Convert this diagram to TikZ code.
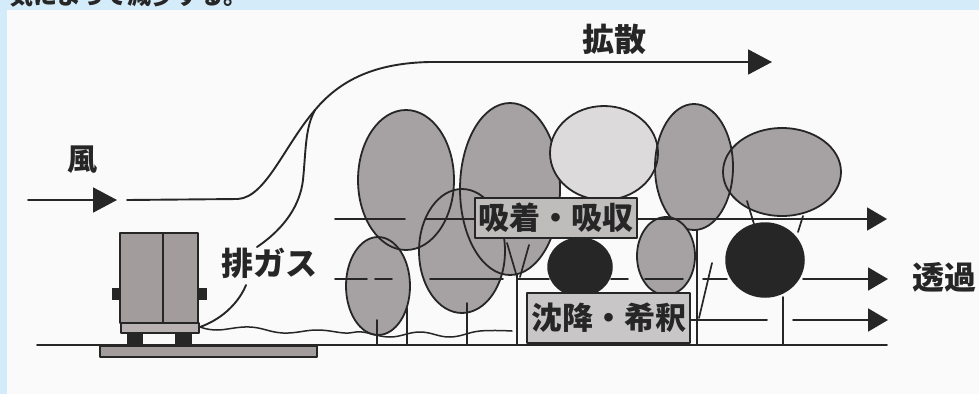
\documentclass[tikz,border=0pt]{standalone}
\usepackage{fontspec}
\newfontfamily\jp{Noto Sans CJK JP}
\usetikzlibrary{arrows.meta}
\definecolor{sky}{HTML}{D4EBF9}
\definecolor{paper}{HTML}{FAFAFA}
\definecolor{leaf}{HTML}{A6A1A3}
\definecolor{pale}{HTML}{DCDADB}
\definecolor{ink}{HTML}{262626}
\definecolor{boxgray}{HTML}{BFBCBC}
\definecolor{boxlight}{HTML}{C8C6C6}
\definecolor{truckgray}{HTML}{A29C9D}
\definecolor{chassis}{HTML}{B8B2B3}

\tikzset{
  bigtip/.tip={Triangle[length=24pt,width=25pt]},
  flowtip/.tip={Triangle[length=20pt,width=23pt]},
  outline/.style={draw=ink, line width=1.8pt},
  flow/.style={draw=ink, line width=1.9pt},
  canopy/.style={fill=leaf},
  lightcanopy/.style={fill=pale},
  darkcanopy/.style={fill=ink, draw=ink, line width=1.5pt},
  trunk/.style={draw=ink, line width=1.7pt},
  label/.style={inner sep=0pt, text=ink, font=\jp\bfseries\fontsize{32}{32}\selectfont},
  tagbox/.style={draw=ink, line width=1.8pt, inner sep=0pt, text=ink,
    font=\jp\bfseries\fontsize{31}{31}\selectfont},
}

\begin{document}
\begin{tikzpicture}[x=1pt, y=-1pt, line join=round, line cap=round]
\useasboundingbox (0,0) rectangle (979,394);
\clip (0,0) rectangle (979,394);

% page background and white panel
\fill[sky] (0,0) rectangle (979,394);
\fill[paper] (7,10) rectangle (979,394);
\node[anchor=base west, inner sep=0pt, text=ink, font=\jp\bfseries\fontsize{24}{24}\selectfont]
  (caption) at (9,4) {気によって減少する。};

% ---- tree canopies, back row (fills first, outlines on top)
\path[canopy] (406,180) ellipse [x radius=48pt, y radius=70pt];
\path[canopy] (510,189) ellipse [x radius=50pt, y radius=86pt];
\path[canopy] (462,251) ellipse [x radius=43pt, y radius=62pt];
\path[canopy] (378,286) ellipse [x radius=32pt, y radius=49pt];
\draw[outline] (406,180) ellipse [x radius=48pt, y radius=70pt];
\draw[outline] (510,189) ellipse [x radius=50pt, y radius=86pt];
\draw[outline] (462,251) ellipse [x radius=43pt, y radius=62pt];
\draw[outline] (378,286) ellipse [x radius=32pt, y radius=49pt];

% ---- right-hand canopies
\path[lightcanopy] (604,153) ellipse [x radius=54pt, y radius=47pt];
\path[canopy] (694,167) ellipse [x radius=39pt, y radius=63pt];
\path[canopy] (782,172) ellipse [x radius=59pt, y radius=44pt];
\draw[outline] (604,153) ellipse [x radius=54pt, y radius=47pt];
\draw[outline] (694,167) ellipse [x radius=39pt, y radius=63pt];
\draw[outline] (782,172) ellipse [x radius=59pt, y radius=44pt];
\path[canopy] (666,256) ellipse [x radius=29pt, y radius=39pt];
\draw[outline] (666,256) ellipse [x radius=29pt, y radius=39pt];

% dark crowns
\draw[darkcanopy] (580,267) ellipse [x radius=32pt, y radius=29pt];
\draw[darkcanopy] (765,260) ellipse [x radius=39pt, y radius=37pt];

% ---- trunks and branches
\draw[trunk] (377,320) -- (377,345);
\draw[trunk] (407,308) -- (407,345);
\draw[trunk] (467,303) -- (467,345);
\draw[trunk] (517,275) -- (517,345);
\draw[trunk] (507,243) -- (517,277);
\draw[trunk] (529,245) -- (520,277);
\draw[trunk] (697,230) -- (697,345);
\draw[trunk] (712,263) -- (699,318);
\draw[trunk] (783,297) -- (783,345);
\draw[trunk] (747,201) -- (754,224);
\draw[trunk] (803,216) -- (798,232);

% ---- ground and roadway
\draw[fill=truckgray, draw=ink, line width=1.4pt] (100,346) rectangle (317,357);
\draw[flow] (37,345) -- (887,345);

% ---- truck
\draw[fill=truckgray, draw=ink, line width=1.7pt] (120,233) rectangle (198,323);
\draw[ink, line width=1.7pt] (163,233) -- (163,323);
\draw[fill=chassis, draw=ink, line width=1.3pt] (121,323) rectangle (199,333);
\fill[ink] (112,288) rectangle (120,300);
\fill[ink] (198,288) rectangle (207,300);
\fill[ink] (127,332) rectangle (143,345);
\fill[ink] (175,332) rectangle (192,345);

% ---- wind and exhaust
\coordinate (windstart) at (28,200);
\coordinate (windtip) at (117,200);
\coordinate (windin) at (127,200);
\coordinate (lift) at (315,110);
\coordinate (spreadtip) at (772,62);
\coordinate (tail) at (200,327);
\draw[flow, -{bigtip}] (windstart) -- (windtip);
\draw[flow, -{bigtip}] (windin) -- (238,199)
  .. controls (266,197) and (284,146) .. (lift)
  .. controls (340,80) and (375,63) .. (430,62) -- (spreadtip);
\draw[flow] (257,247) .. controls (285,228) and (300,205) .. (303,180)
  .. controls (306,150) and (305,128) .. (lift);
\draw[flow] (tail) .. controls (225,318) and (240,300) .. (246,285);
\draw[flow, line width=1.5pt] plot[smooth, tension=0.7] coordinates {
  (tail) (217,330) (250,327) (283,333) (317,330) (345,333) (362,332)
  (390,337) (420,332) (450,337) (480,331) (512,331)};

% ---- air paths through the planting
\draw[flow] (335,219) -- (405,219);
\draw[flow] (425,219) -- (476,219);
\draw[flow, -{flowtip}] (636,219) -- (887,219);
\draw[flow] (335,279) -- (367,279);
\draw[flow] (375,279) -- (392,279);
\draw[flow] (430,279) -- (503,279);
\draw[flow] (518,279) -- (549,279);
\draw[flow] (611,279) -- (628,279);
\draw[flow] (645,279) -- (683,279);
\draw[flow] (703,279) -- (727,279);
\draw[flow, -{flowtip}] (803,279) -- (888,279);
\draw[flow] (689,320) -- (767,320);
\draw[flow, -{flowtip}] (793,320) -- (888,320);

% ---- labels
\node[tagbox, fill=boxgray, minimum width=162pt, minimum height=40pt] (adsorb) at (556,218) {吸着・吸収};
\node[tagbox, fill=boxlight, minimum width=163pt, minimum height=50pt] (settle) at (608.5,318) {沈降・希釈};
\node[label, font=\jp\bfseries\fontsize{30}{30}\selectfont] (wind) at (82,160) {風};
\node[label] (spread) at (614,39) {拡散};
\node[label] (exhaust) at (269,263) {排ガス};
\node[label, anchor=west] (through) at (912,277) {透過};
\end{tikzpicture}
\end{document}
